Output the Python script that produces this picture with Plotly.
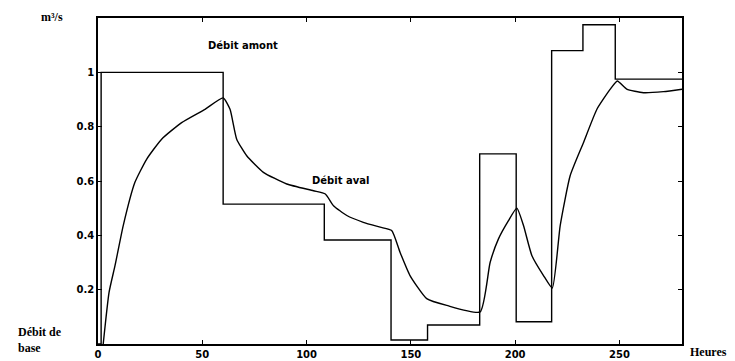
import plotly.graph_objects as go

# Débit amont (step input), breakpoints in hours
amont_t = [0, 1.5, 60, 108.5, 140.5, 158, 183, 200.5, 217.5, 232.5, 248, 280]
amont_q = [0, 1.0, 0.515, 0.383, 0.015, 0.07, 0.70, 0.082, 1.08, 1.175, 0.975, 0.975]

# Débit aval (routed response)
aval_t = [2.5, 5.3, 8.2, 12.1, 17.7, 23.3, 30.5, 40.1, 51.3, 60, 63.3, 66.5, 71.3,
          79.3, 90.5, 103.3, 109, 112.9, 119.3, 127.2, 135.3, 140.8, 144.8, 149.6,
          157.6, 167.2, 183.2, 188, 192, 196.8, 200.8, 204, 208, 213.6, 217.8,
          221.6, 226.4, 232.8, 239.2, 245.6, 249, 253.5, 261.5, 271.1, 280]
aval_q = [0, 0.19, 0.29, 0.436, 0.595, 0.68, 0.754, 0.815, 0.864, 0.906, 0.864, 0.754,
          0.693, 0.632, 0.589, 0.564, 0.552, 0.509, 0.473, 0.448, 0.43, 0.418, 0.338,
          0.252, 0.167, 0.142, 0.118, 0.30, 0.387, 0.454, 0.50, 0.436, 0.326, 0.252,
          0.206, 0.436, 0.62, 0.742, 0.864, 0.938, 0.968, 0.938, 0.925, 0.929, 0.938]

x_ticks = [0, 50, 100, 150, 200, 250]
y_ticks = [0.2, 0.4, 0.6, 0.8, 1]
y_labels = ["0.2", "0.4", "0.6", "0.8", "1"]

sans = "DejaVu Sans"
serif = "Liberation Serif"

fig = go.Figure()
fig.add_trace(go.Scatter(x=amont_t, y=amont_q, mode="lines", line_shape="hv",
                         line=dict(color="black", width=1.4), name="Débit amont"))
fig.add_trace(go.Scatter(x=aval_t, y=aval_q, mode="lines", line_shape="spline",
                         line=dict(color="black", width=1.4, smoothing=0.5),
                         name="Débit aval"))

axis_common = dict(showline=True, linecolor="black", linewidth=1.5, mirror="ticks",
                   ticks="inside", ticklen=4, tickcolor="black", showgrid=False,
                   zeroline=False, automargin=False,
                   tickfont=dict(family=sans, size=10, color="black", weight="bold"))

fig.update_xaxes(range=[0, 280], tickvals=x_ticks, **axis_common)
fig.update_yaxes(range=[0, 1.2], tickvals=y_ticks, ticktext=y_labels, **axis_common)

# page is offset by the 8px body margin
off = 8
l, r, t, b = 98 - off, 53, 18 - off, 17
W, H = 735 - off, 361 - off
pw, ph = W - l - r, H - t - b

# label positions in screen pixels (x, y)
ann = [
    dict(text="<b>m³/s</b>", x=52, y=17, font=dict(family=serif, size=12)),
    dict(text="<b>Débit amont</b>", x=243, y=46, font=dict(family=sans, size=10)),
    dict(text="<b>Débit aval</b>", x=340, y=180, font=dict(family=sans, size=10)),
    dict(text="<b>Débit de<br>base</b>", x=40, y=340, align="left",
         font=dict(family=serif, size=12)),
    dict(text="<b>Heures</b>", x=708, y=352, font=dict(family=serif, size=12)),
]
for a in ann:
    fig.add_annotation(text=a["text"], xref="paper", yref="paper",
                       x=(a["x"] - off - l) / pw, y=1 - (a["y"] - off - t) / ph,
                       showarrow=False, xanchor="center", yanchor="middle",
                       align=a.get("align", "center"),
                       font=dict(color="black", **a["font"]))

fig.update_layout(width=W, height=H, margin=dict(l=l, r=r, t=t, b=b),
                  paper_bgcolor="white", plot_bgcolor="white", showlegend=False)

fig.write_html("out.html")
